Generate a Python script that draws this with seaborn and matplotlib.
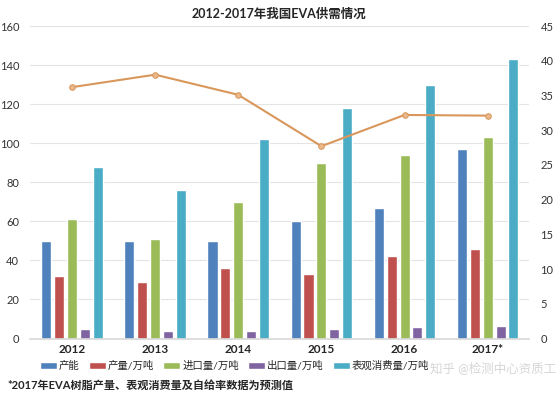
import matplotlib
matplotlib.use("Agg")
import matplotlib.pyplot as plt
import numpy as np
import pandas as pd
import seaborn as sns

years = ["2012", "2013", "2014", "2015", "2016", "2017*"]
series = ["产能", "产量/万吨", "进口量/万吨", "出口量/万吨", "表观消费量/万吨"]
capacity = [50, 50, 50, 60, 67, 97]
output = [32, 29, 36, 33, 42, 46]
imports = [61, 51, 70, 90, 94, 103]
exports = [5, 4, 4, 5, 6, 6.5]
consumption = [88, 76, 102, 118, 130, 143]
self_sufficiency = [36.2, 38.0, 35.1, 27.7, 32.2, 32.1]

colors = ["#4F81BD", "#C0504D", "#9BBB59", "#8064A2", "#4BACC6"]
line_color = "#D9975B"

sns.set_theme(style="white")
plt.rcParams["font.family"] = ["Lato", "Noto Sans CJK SC", "DejaVu Sans"]

df = pd.DataFrame({
    "year": years * 5,
    "series": [s for s in series for _ in years],
    "value": capacity + output + imports + exports + consumption,
})

fig = plt.figure(figsize=(5.58, 3.95), dpi=100)
ax = fig.add_axes([0.0545, 0.143, 0.894, 0.791])

sns.barplot(data=df, x="year", y="value", hue="series", palette=colors,
            width=0.775, gap=0.22, saturation=1, ax=ax)
ax.set_ylim(0, 160)
ax.set_yticks(range(0, 161, 20))
ax.set_xlim(-0.5, 5.5)
ax.grid(axis="y", color="#E4E4E4", linewidth=0.8)
ax.set_axisbelow(True)
for s in ["top", "right", "left"]:
    ax.spines[s].set_visible(False)
ax.spines["bottom"].set_color("#D9D9D9")
ax.set_xlabel("")
ax.set_ylabel("")
ax.tick_params(axis="y", length=0, labelsize=8, pad=8, colors="#333333")
ax.tick_params(axis="x", length=0, labelsize=8.5, pad=4)
for t in ax.get_xticklabels():
    t.set_fontweight("bold")

ax2 = ax.twinx()
sns.lineplot(x=np.arange(len(years)), y=self_sufficiency, color=line_color,
             marker="o", markersize=4, linewidth=1.5, markerfacecolor="#E9B98C",
             markeredgecolor=line_color, ax=ax2)
ax2.set_ylim(0, 45)
ax2.set_yticks(range(0, 46, 5))
for s in ["top", "right", "left", "bottom"]:
    ax2.spines[s].set_visible(False)
ax2.tick_params(axis="y", length=0, labelsize=8, pad=8, colors="#333333")
ax2.grid(False)

sns.move_legend(ax, "center left", bbox_to_anchor=(0.072, 0.073), bbox_transform=fig.transFigure,
                ncol=5, frameon=False, title=None, fontsize=7.5, borderaxespad=0, borderpad=0,
                handlelength=1.6, handleheight=0.55, handletextpad=0.2, columnspacing=0.9)

fig.text(0.5, 0.965, "2012-2017年我国EVA供需情况", ha="center", va="center",
         fontsize=9, fontweight="bold")
fig.text(0.014, 0.025, "*2017年EVA树脂产量、表观消费量及自给率数据为预测值", ha="left",
         va="center", fontsize=8, fontweight="bold")
fig.text(0.77, 0.068, "知乎 @检测中心资质工", ha="left", va="center", fontsize=9,
         color="#CCCCCC", alpha=0.8)

fig.savefig("out.png", dpi=100)
